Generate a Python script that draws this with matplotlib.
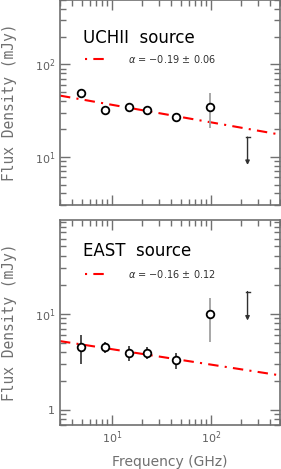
import matplotlib
matplotlib.use("Agg")
import matplotlib.pyplot as plt
import numpy as np
from matplotlib.ticker import LogLocator, NullFormatter, FuncFormatter

freq = [4.9, 8.5, 15.0, 22.5, 45.0, 98.0]
uchii_flux = [49.0, 32.0, 34.5, 32.5, 27.0, 34.5]
uchii_err = [5.0, 3.0, 3.0, 3.0, 3.0, 14.0]
east_flux = [4.5, 4.5, 3.9, 3.95, 3.3, 9.9]
east_err = [1.5, 0.55, 0.7, 0.6, 0.6, 4.8]
limit_freq = 235.0
uchii_limit = 16.3
east_limit = 17.0
uchii_fit = (46.0, -0.19)   # S at 3 GHz, spectral index
east_fit = (5.2, -0.16)
titles = ["UCHII  source", "EAST  source"]
fit_labels = [r"$\alpha$ = $-$0.19 $\pm$ 0.06", r"$\alpha$ = $-$0.16 $\pm$ 0.12"]

W, H = 281, 469
fig = plt.figure(figsize=(W/100, H/100), dpi=100)
frame = "#707070"

def fmt(v, pos):
    e = int(round(np.log10(v)))
    if e == 0:
        return "1"
    return r"$10^{%d}$" % e

def panel(rect, flux, err, lim, fit, title, lab, ylim, show_x, ty, ly):
    ax = fig.add_axes(rect)
    ax.set_xscale("log"); ax.set_yscale("log")
    ax.set_xlim(3, 500); ax.set_ylim(*ylim)
    fx = np.logspace(np.log10(3), np.log10(500), 200)
    ax.plot(fx, fit[0]*(fx/3.0)**fit[1], color="red", lw=1.5,
            dashes=(5, 3, 1, 3), zorder=2)
    ecols = ["#404040"]*5 + ["#a0a0a0"]
    for i in range(len(freq)):
        ax.errorbar(freq[i], flux[i], yerr=err[i], fmt="none", ecolor=ecols[i],
                    elinewidth=1.3, capsize=0, zorder=3)
    ax.plot(freq, flux, "o", mfc="white", mec="black", ms=5.5, mew=1.3, ls="none", zorder=4)
    ax.annotate("", xy=(limit_freq, lim/2.0), xytext=(limit_freq, lim),
                arrowprops=dict(arrowstyle="-|>", color="#303030", lw=1.0,
                                mutation_scale=6, shrinkA=0, shrinkB=0))
    ax.plot([limit_freq*0.955, limit_freq*1.047], [lim, lim], color="#303030", lw=1.0)
    ax.text(0.105, ty, title, transform=ax.transAxes, fontsize=12, va="center", ha="left",
            color="black")
    ax.plot([0.114, 0.227], [ly, ly], transform=ax.transAxes, color="red", lw=1.5,
            ls=(8, (5, 3, 1, 3)))
    ax.text(0.31, ly, lab, transform=ax.transAxes, fontsize=7, va="center", ha="left",
            color="#303030")
    for s in ax.spines.values():
        s.set_color(frame); s.set_linewidth(1.2)
    ax.tick_params(which="both", direction="in", top=True, right=True, colors=frame,
                   labelcolor="#606060", labelsize=8)
    ax.tick_params(which="major", length=7, width=1.0)
    ax.tick_params(which="minor", length=4, width=1.0)
    ax.xaxis.set_minor_locator(LogLocator(base=10, subs=np.arange(2, 10), numticks=20))
    ax.yaxis.set_minor_locator(LogLocator(base=10, subs=np.arange(2, 10), numticks=20))
    ax.xaxis.set_minor_formatter(NullFormatter())
    ax.yaxis.set_minor_formatter(NullFormatter())
    ax.xaxis.set_major_formatter(FuncFormatter(fmt))
    ax.yaxis.set_major_formatter(FuncFormatter(fmt))
    if not show_x:
        ax.tick_params(axis="x", labelbottom=False)
    ax.set_ylabel("Flux Density (mJy)", fontsize=10.5, color="#707070",
                  family="DejaVu Sans Mono")
    ax.yaxis.set_label_coords(-0.195, 0.5)
    return ax

ax1 = panel([60/W, 1-205/H, 220/W, 205/H], uchii_flux, uchii_err, uchii_limit, uchii_fit,
            titles[0], fit_labels[0], (3, 500), False, 0.816, 0.712)
ax2 = panel([60/W, 1-425/H, 220/W, 205/H], east_flux, east_err, east_limit, east_fit,
            titles[1], fit_labels[1], (0.7, 94), True, 0.849, 0.735)
ax2.set_xlabel("Frequency (GHz)", fontsize=10, color="#707070", labelpad=6)

fig.savefig("out.png", dpi=100)
